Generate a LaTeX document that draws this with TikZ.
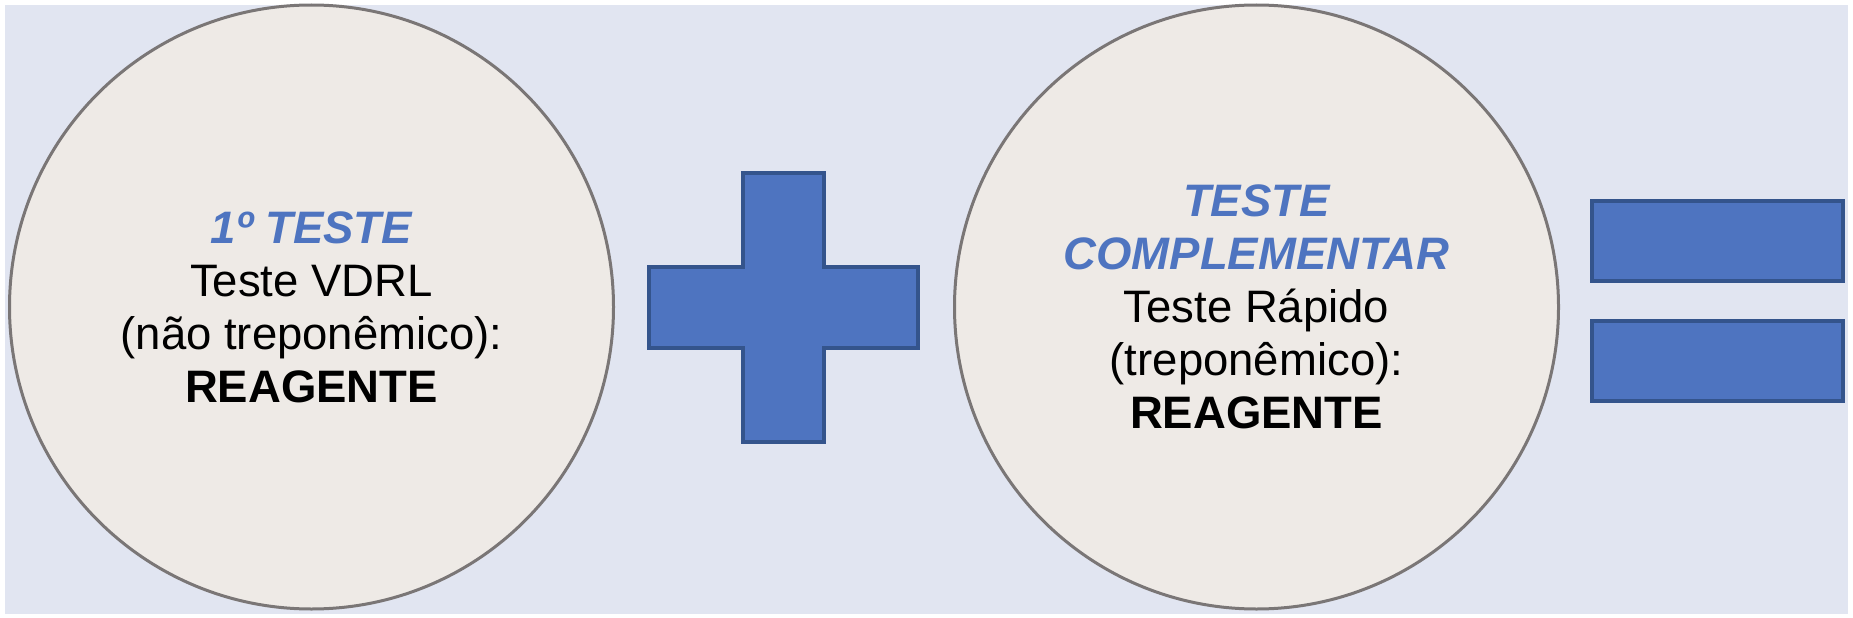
\documentclass[tikz,border=0pt]{standalone}
\usepackage{fontspec}
\setmainfont{Liberation Sans}
\usepackage{xcolor}
\definecolor{fundo}{RGB}{225,229,241}
\definecolor{bolha}{RGB}{238,234,230}
\definecolor{borda}{RGB}{122,118,118}
\definecolor{azul}{RGB}{78,116,192}
\definecolor{azulesc}{RGB}{52,84,140}

\begin{document}
\begin{tikzpicture}[x=1pt,y=-1pt,
        bolhateste/.style={circle,draw=borda,fill=bolha,line width=3pt,minimum size=604pt,inner sep=0pt,align=center,
            font=\fontsize{45.5}{53}\selectfont},
        sinal/.style={draw=azulesc,fill=azul,line width=4pt}]
        \useasboundingbox (0,0) rectangle (1853,618);
        \fill[fundo] (5,5) rectangle (1848,614);
        \node[bolhateste] (teste1) at (311.5,307) {{\bfseries\itshape\color{azul}1º TESTE}\\Teste VDRL\\(não treponêmico):\\{\bfseries REAGENTE}};
        \node[bolhateste] (teste2) at (1256.5,307) {{\bfseries\itshape\color{azul}TESTE}\\{\bfseries\itshape\color{azul}COMPLEMENTAR}\\Teste Rápido\\(treponêmico):\\{\bfseries REAGENTE}};
        \draw[sinal] (743,173) -- (824,173) -- (824,267) -- (918,267) -- (918,348) -- (824,348) -- (824,442)
            -- (743,442) -- (743,348) -- (649,348) -- (649,267) -- (743,267) -- cycle;
        \draw[sinal] (1592,201) rectangle (1843,281);
        \draw[sinal] (1592,321) rectangle (1843,401);
    \end{tikzpicture}
\end{document}
